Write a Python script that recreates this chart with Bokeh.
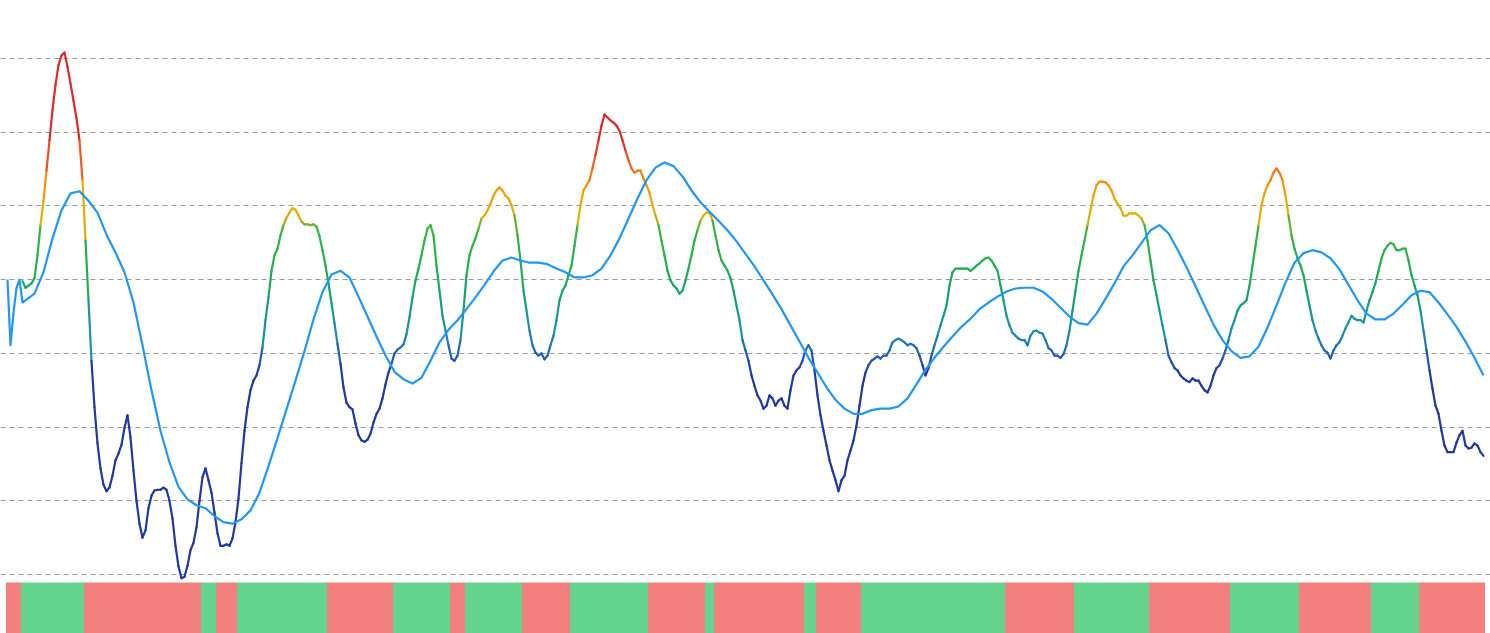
import numpy as np
from bokeh.plotting import figure
from bokeh.models import ColumnDataSource, FixedTicker, Range1d, LinearColorMapper
from bokeh.transform import transform
from bokeh.embed import file_html
from bokeh.resources import INLINE

# ---------------- data ----------------
main_start = 5
main_values = [
    39.8, 38.9, 39.2, 39.5, 40.2, 43.3, 47.4, 50.7, 54.8, 58.9,
    63.0, 66.4, 69.1, 70.4, 70.8, 68.9, 66.6, 64.3, 61.9, 58.9,
    53.5, 45.3, 37.2, 29.0, 22.7, 17.8, 14.4, 12.2, 11.3, 11.8,
    13.4, 15.5, 16.4, 17.6, 19.9, 21.6, 18.6, 14.1, 10.0, 6.9,
    5.0, 6.0, 9.0, 10.7, 11.4, 11.5, 11.5, 11.8, 11.5, 10.0,
    7.6, 3.9, 1.1, -0.5, -0.3, 1.2, 3.3, 4.3, 6.4, 10.0,
    13.2, 14.4, 12.8, 11.1, 8.4, 5.6, 3.9, 3.9, 4.1, 3.9,
    4.9, 7.1, 10.3, 15.1, 19.5, 22.7, 25.0, 26.3, 27.0, 28.4,
    30.8, 34.5, 37.6, 41.2, 43.3, 44.2, 46.0, 47.4, 48.4, 49.1,
    49.7, 49.5, 48.7, 47.9, 47.5, 47.5, 47.4, 47.5, 47.2, 45.9,
    44.0, 41.9, 39.5, 36.8, 34.1, 31.3, 28.6, 25.4, 23.3, 22.7,
    22.4, 20.5, 18.9, 18.2, 18.0, 18.3, 19.1, 20.6, 21.8, 22.5,
    23.9, 25.8, 27.4, 28.6, 30.0, 30.5, 30.8, 31.2, 32.6, 34.9,
    37.6, 39.9, 41.5, 43.3, 45.3, 46.9, 47.4, 46.0, 41.9, 38.5,
    35.1, 33.1, 31.1, 29.3, 29.0, 29.7, 31.8, 35.8, 40.6, 43.3,
    44.6, 45.6, 46.9, 48.3, 48.7, 49.4, 50.3, 51.4, 52.1, 52.5,
    52.1, 51.4, 51.0, 50.1, 48.7, 46.0, 42.6, 38.5, 35.8, 33.1,
    31.1, 30.1, 29.7, 30.0, 29.2, 29.7, 31.1, 32.4, 34.5, 37.2,
    38.5, 39.2, 40.6, 41.9, 44.6, 47.4, 50.1, 52.1, 52.8, 53.5,
    55.1, 56.9, 58.9, 60.9, 62.4, 62.0, 61.6, 61.3, 60.9, 60.2,
    58.9, 57.5, 56.2, 55.1, 54.5, 54.8, 54.8, 53.7, 52.8, 51.8,
    50.1, 48.7, 47.4, 45.3, 43.3, 41.2, 39.9, 39.2, 38.8, 38.1,
    38.5, 39.9, 41.5, 43.3, 45.3, 46.7, 48.0, 48.7, 49.1, 49.1,
    48.0, 46.0, 44.0, 42.6, 41.9, 41.2, 40.2, 38.5, 36.5, 34.5,
    31.8, 30.4, 29.0, 27.0, 25.6, 24.3, 23.6, 22.5, 22.9, 24.3,
    23.9, 22.9, 23.6, 23.9, 22.9, 22.5, 25.0, 27.0, 27.7, 28.1,
    29.0, 30.4, 31.1, 30.4, 27.7, 24.3, 21.6, 19.5, 17.5, 15.5,
    14.1, 12.8, 11.3, 12.8, 13.4, 15.5, 16.8, 18.2, 20.2, 22.9,
    25.6, 27.4, 28.4, 29.0, 29.3, 29.6, 29.3, 29.7, 29.7, 30.4,
    31.5, 31.8, 32.0, 31.8, 31.5, 31.1, 31.3, 31.1, 30.7, 29.7,
    28.4, 27.0, 28.0, 29.7, 31.1, 32.4, 33.8, 35.1, 36.5, 39.2,
    41.0, 41.5, 41.5, 41.5, 41.5, 41.5, 41.2, 41.5, 41.9, 42.2,
    42.6, 42.9, 43.0, 42.6, 41.9, 41.2, 39.2, 37.2, 35.1, 33.8,
    32.8, 32.4, 32.0, 31.8, 31.8, 31.1, 32.4, 33.0, 33.1, 32.8,
    32.7, 31.8, 30.7, 30.4, 29.7, 29.7, 29.4, 29.9, 31.1, 33.1,
    35.8, 38.5, 41.2, 43.3, 45.3, 47.4, 49.4, 51.4, 52.8, 53.3,
    53.3, 53.2, 52.8, 52.1, 51.0, 50.3, 49.7, 48.7, 48.7, 49.0,
    49.0, 49.0, 48.7, 48.3, 47.4, 45.3, 42.6, 39.9, 37.9, 35.8,
    33.8, 31.8, 29.7, 28.8, 28.0, 27.7, 27.0, 26.6, 26.3, 26.1,
    26.6, 26.3, 26.3, 25.6, 25.0, 24.7, 25.6, 27.0, 28.0, 28.4,
    29.3, 30.4, 31.8, 33.4, 34.5, 35.8, 36.5, 36.8, 37.2, 39.2,
    41.9, 44.6, 47.4, 50.1, 51.7, 52.8, 53.5, 54.5, 55.1, 54.5,
    53.5, 51.4, 48.7, 46.0, 44.2, 42.9, 41.9, 40.6, 38.5, 36.5,
    34.5, 33.1, 32.0, 31.1, 30.4, 30.1, 29.3, 30.4, 31.1, 31.5,
    32.4, 33.4, 34.2, 35.1, 34.7, 34.5, 34.5, 34.2, 35.8, 37.2,
    38.3, 39.6, 41.2, 42.9, 44.0, 44.6, 45.0, 44.8, 44.0, 44.0,
    44.2, 44.2, 42.6, 40.6, 39.2, 37.9, 35.8, 33.1, 30.4, 27.7,
    25.2, 22.9, 21.8, 19.5, 17.5, 16.6, 16.6, 16.6, 17.9, 18.9,
    19.5, 17.5, 17.1, 17.2, 17.8, 17.5, 16.6, 16.1,
]

signal_x = [0, 1, 2, 3, 4, 5] + list(range(6, 493, 3))
signal_values = [
    40.0, 31.1, 35.5, 38.9, 40.0, 36.9,
    37.2, 38.1, 41.0, 45.6, 49.4, 51.7, 52.0, 50.7, 49.1, 46.1,
    43.7, 41.0, 36.9, 31.1, 25.0, 19.5, 15.2, 11.9, 10.2, 9.4,
    9.0, 7.9, 7.1, 6.9, 7.5, 8.7, 11.1, 14.7, 18.5, 22.4,
    26.3, 30.3, 34.6, 38.3, 40.7, 41.2, 40.3, 37.7, 35.0, 32.3,
    29.7, 27.5, 26.5, 25.9, 26.7, 29.0, 31.5, 33.2, 34.5, 36.0,
    37.6, 39.3, 41.1, 42.6, 43.0, 42.6, 42.3, 42.3, 42.1, 41.5,
    41.0, 40.3, 40.3, 40.6, 41.5, 43.3, 45.6, 48.3, 51.0, 53.5,
    55.2, 55.9, 55.4, 54.0, 52.1, 50.5, 49.2, 48.0, 46.7, 45.2,
    43.5, 41.8, 39.9, 38.0, 36.0, 33.8, 31.6, 29.4, 27.4, 25.4,
    23.7, 22.5, 21.8, 21.8, 22.3, 22.5, 22.5, 22.8, 23.9, 25.8,
    27.8, 29.4, 30.9, 32.3, 33.6, 34.7, 36.0, 36.9, 37.7, 38.4,
    38.8, 38.9, 38.9, 38.4, 37.4, 36.2, 35.0, 34.1, 33.9, 35.4,
    37.4, 39.5, 41.8, 43.3, 45.0, 46.7, 47.4, 46.3, 44.1, 41.7,
    39.1, 36.5, 33.9, 31.8, 30.3, 29.4, 29.6, 30.9, 33.5, 36.5,
    39.6, 42.3, 43.6, 44.0, 43.7, 42.9, 41.4, 39.3, 37.2, 35.4,
    34.6, 34.6, 35.4, 36.6, 37.9, 38.5, 38.3, 36.9, 35.3, 33.6,
    31.6, 29.4, 27.0,
]

# regime bar: start index of each run and its state (1 = up/green, 0 = down/red)
regime_start = [0, 5, 26, 65, 70, 77, 107, 129, 148, 153, 172, 188, 214, 233,
                236, 266, 270, 285, 333, 356, 381, 408, 431, 455, 471]
regime_state = [0, 1, 0, 1, 0, 1, 0, 1, 0, 1, 0, 1, 0, 1, 0, 1, 0, 1, 0, 1,
                0, 1, 0, 1, 0]
regime_end = 493

grid_values = [0, 10, 20, 30, 40, 50, 60, 70]

# ---------------- styles ----------------
RED = "#F37F7F"
GREEN = "#64D48E"
SIGNAL_COLOR = "#2196F3"
stops = [(20, "#2237a0"), (27, "#2237a0"), (30, "#2060b8"), (33, "#1a92b0"),
         (37, "#12a078"), (42, "#22b04c"), (47, "#3cb444"), (48.5, "#e2b000"),
         (52, "#f0a000"), (55, "#f7701f"), (59, "#dc2a2a"), (72, "#dc2a2a")]


def hex_to_rgb(h):
    h = h.lstrip("#")
    return [int(h[i:i + 2], 16) for i in (0, 2, 4)]


sv = np.array([s[0] for s in stops], dtype=float)
sc = np.array([hex_to_rgb(s[1]) for s in stops], dtype=float)
levels = np.linspace(20, 72, 256)
palette = []
for lv in levels:
    rgb = [int(round(np.interp(lv, sv, sc[:, k]))) for k in range(3)]
    palette.append("#%02x%02x%02x" % tuple(rgb))
mapper = LinearColorMapper(palette=palette, low=20, high=72)

# ---------------- figure ----------------
p = figure(width=1490, height=633, output_backend="svg", toolbar_location=None,
           x_range=Range1d(-2.33, 494.33), y_range=Range1d(-8.0, 77.87),
           min_border=0, min_border_left=0, min_border_right=0,
           min_border_top=0, min_border_bottom=0)
p.outline_line_color = None
p.background_fill_color = "white"
p.border_fill_color = "white"
p.xaxis.visible = False
p.yaxis.visible = False
p.xgrid.visible = False
p.yaxis.ticker = FixedTicker(ticks=grid_values)
p.ygrid.ticker = FixedTicker(ticks=grid_values)
p.ygrid.grid_line_color = "#9a9a9a"
p.ygrid.grid_line_dash = "5 4"
p.ygrid.grid_line_width = 1

# regime bar
ends = regime_start[1:] + [regime_end]
bar_src = ColumnDataSource(dict(
    left=[s - 0.5 for s in regime_start],
    right=[e - 0.5 for e in ends],
    color=[GREEN if st == 1 else RED for st in regime_state],
))
p.quad(left="left", right="right", top=-1.09, bottom=-8.0, fill_color="color",
       line_color=None, source=bar_src)

# coloured oscillator line
mx = np.arange(main_start, main_start + len(main_values))
mv = np.array(main_values)
seg = ColumnDataSource(dict(
    x0=mx[:-1], x1=mx[1:], y0=mv[:-1], y1=mv[1:],
    mid=(mv[:-1] + mv[1:]) / 2.0,
))
p.segment(x0="x0", y0="y0", x1="x1", y1="y1", source=seg,
          line_color=transform("mid", mapper), line_width=2.2, line_cap="round")

# signal line
p.line(signal_x, signal_values, line_color=SIGNAL_COLOR, line_width=2.2,
       line_join="round")

open("out.html", "w").write(file_html(p, INLINE))
